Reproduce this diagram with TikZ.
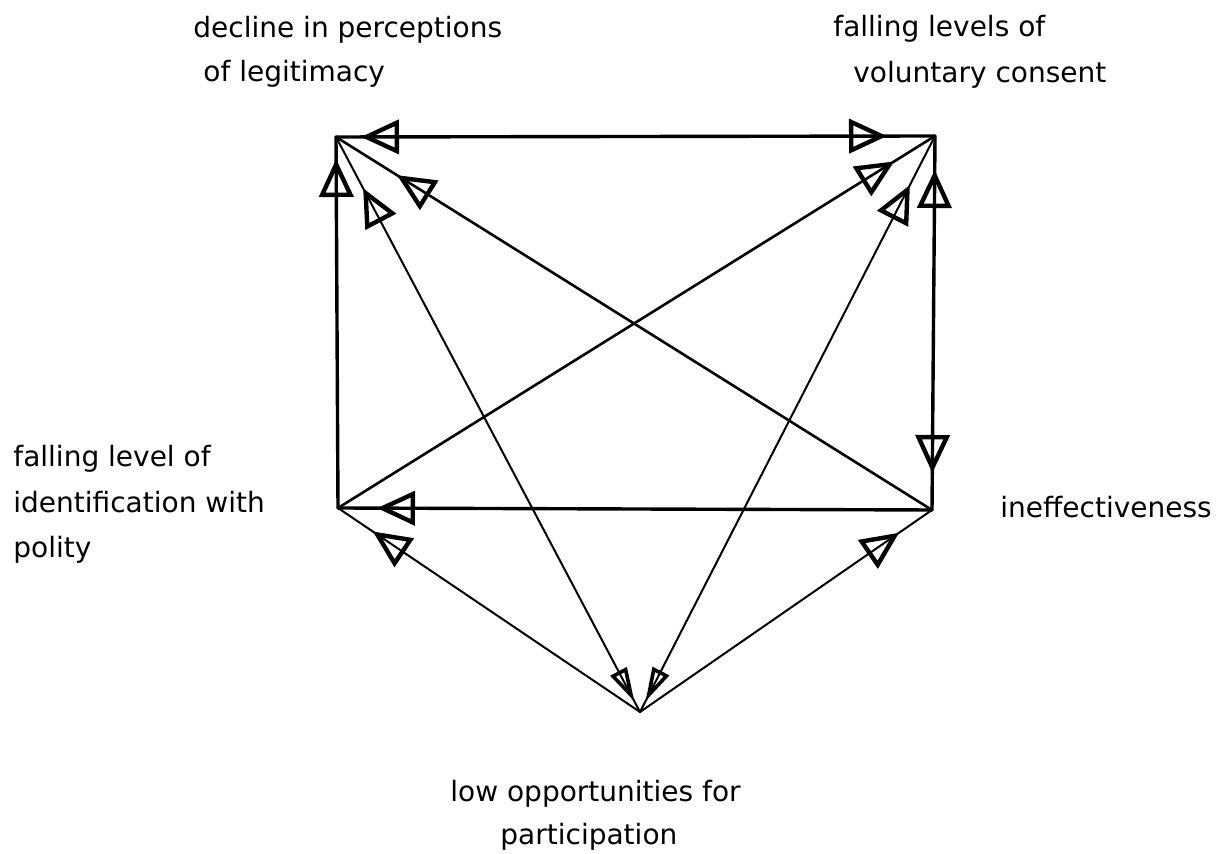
\documentclass[tikz,border=0pt]{standalone}
\usepackage{fontspec}
\setmainfont{DejaVu Sans}
\usetikzlibrary{arrows.meta,decorations.markings}
\tikzset{
  lbl/.style={anchor=base west,inner sep=0pt,font=\fontsize{14}{17}\selectfont},
  heavyline/.style={line width=1.7pt,line cap=round},
  midline/.style={line width=1.3pt,line cap=round},
  thinline/.style={line width=1pt,line cap=round},
  tipend/.style={postaction={decorate,decoration={markings,
    mark=at position -#1 with {\arrow{Triangle[open,length=19pt,width=17pt,line width=2.2pt]}}}}},
  tipstart/.style={postaction={decorate,decoration={markings,
    mark=at position #1 with {\arrowreversed{Triangle[open,length=19pt,width=17pt,line width=2.2pt]}}}}},
  narrowend/.style={postaction={decorate,decoration={markings,
    mark=at position -#1 with {\arrow{Triangle[open,length=17pt,width=9pt,line width=1.8pt]}}}}},
  narrowstart/.style={postaction={decorate,decoration={markings,
    mark=at position #1 with {\arrowreversed{Triangle[open,length=17pt,width=9pt,line width=1.8pt]}}}}},
}
\begin{document}
\begin{tikzpicture}[x=0.5pt,y=-0.5pt]
\useasboundingbox (0,0) rectangle (1227,854);
% vertices
\coordinate (A) at (336,137);
\coordinate (B) at (935,136);
\coordinate (C) at (338,508);
\coordinate (D) at (932,510);
\coordinate (E) at (640,712);
% labels
\node[lbl] (legit1) at (193,38) {decline in perceptions};
\node[lbl] (legit2) at (203,82) {of legitimacy};
\node[lbl] (cons1) at (833,37) {falling levels of};
\node[lbl] (cons2) at (853,83) {voluntary consent};
\node[lbl] (ident1) at (13,467) {falling level of};
\node[lbl] (ident2) at (13,513) {identification with};
\node[lbl] (ident3) at (13,558) {polity};
\node[lbl] (ineff) at (1000,518) {ineffectiveness};
\node[lbl] (part1) at (450,802) {low opportunities for};
\node[lbl] (part2) at (500,845) {participation};
% connectors
\draw[heavyline,tipstart=12.5pt,tipend=24pt] (A) -- (B);
\draw[heavyline,tipstart=11pt] (A) -- (C);
\draw[heavyline,tipstart=17pt,tipend=18.5pt] (B) -- (D);
\draw[heavyline,tipstart=19.5pt] (C) -- (D);
\draw[midline,tipstart=36pt] (A) -- (D);
\draw[midline,tipend=24pt] (C) -- (B);
\draw[thinline,tipstart=29pt,narrowend=6pt] (A) -- (E);
\draw[thinline,narrowstart=6pt,tipend=27.5pt] (E) -- (B);
\draw[thinline,tipstart=21pt] (C) -- (E);
\draw[thinline,tipend=20pt] (E) -- (D);
\end{tikzpicture}
\end{document}
